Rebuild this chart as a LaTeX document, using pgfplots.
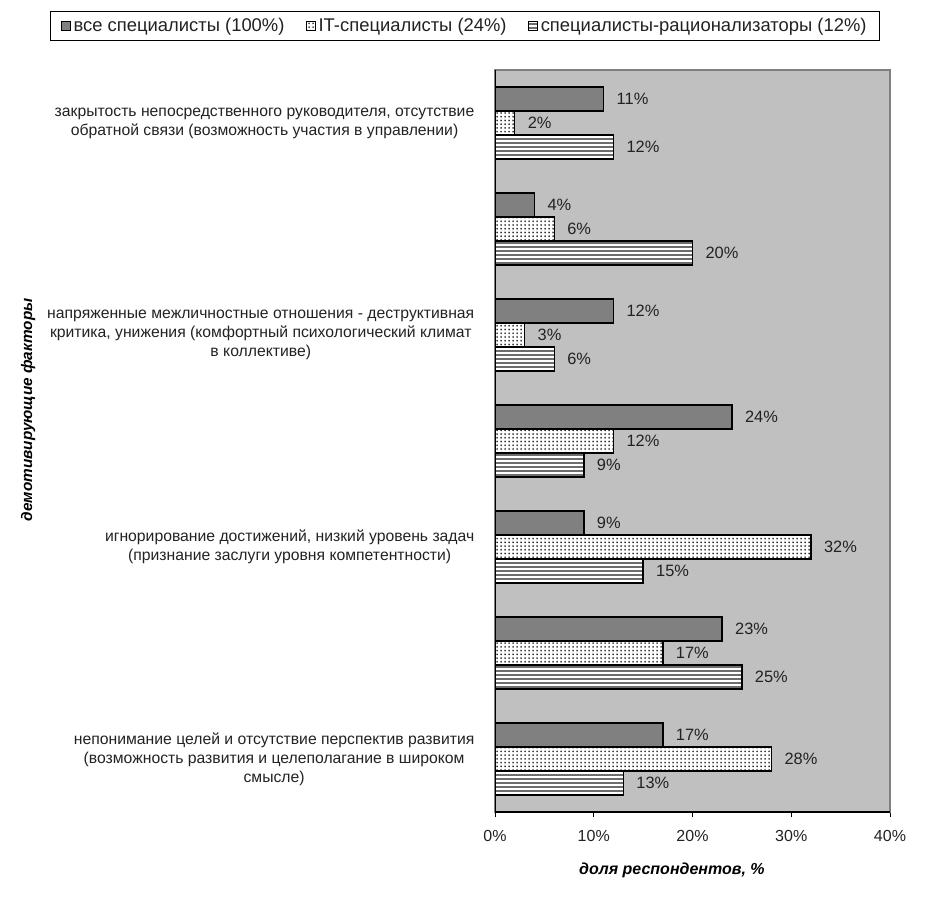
\documentclass[border=0pt]{standalone}
\usepackage{pgfplots}
\pgfplotsset{compat=1.18}
\usepackage{fontspec}
\setmainfont{Liberation Sans}
\usetikzlibrary{patterns}
\definecolor{bggray}{HTML}{C0C0C0}
\definecolor{bargray}{HTML}{808080}
\definecolor{txt}{HTML}{222222}
\pgfdeclarepatternformonly{hstripes}{\pgfpointorigin}{\pgfpoint{4pt}{2.6pt}}{\pgfpoint{4pt}{2.6pt}}{%
  \pgfpathrectangle{\pgfpointorigin}{\pgfpoint{4pt}{1.6pt}}\pgfusepath{fill}}
\pgfdeclarepatternformonly{bigdots}{\pgfpoint{-1pt}{-1pt}}{\pgfpoint{4pt}{4pt}}{\pgfpoint{3pt}{2.8pt}}{%
  \pgfpathellipse{\pgfpoint{0.8pt}{0.8pt}}{\pgfpoint{0.55pt}{0pt}}{\pgfpoint{0pt}{0.8pt}}\pgfusepath{fill}}
\begin{document}
\begin{tikzpicture}
\useasboundingbox (0pt,0pt) rectangle (698.25pt,-684.75pt);
\begin{axis}[
  at={(371.25pt,-52.5pt)}, anchor=north west,
  scale only axis, width=296.25pt, height=556.5pt,
  xbar=0pt, bar width=18pt,
  y dir=reverse,
  xmin=0, xmax=40, ymin=-0.5, ymax=6.5,
  xtick={0,10,20,30,40},
  xticklabels={0\%,10\%,20\%,30\%,40\%},
  ytick={0,1,2,3,4,5,6},
  yticklabels={
    {закрытость непосредственного руководителя, отсутствие\\обратной связи (возможность участия в управлении)},
    {},
    {напряженные межличностные отношения - деструктивная\\критика, унижения (комфортный психологический климат\\в коллективе)},
    {},
    {игнорирование достижений, низкий уровень задач\\(признание заслуги уровня компетентности)},
    {},
    {непонимание целей и отсутствие перспектив развития\\(возможность развития и целеполагание в широком\\смысле)}},
  minor ytick={-0.5,0.5,1.5,2.5,3.5,4.5,5.5,6.5},
  tick pos=left, tick align=outside,
  major tick length=4pt, minor tick length=4pt,
  ytick style={draw=none},
  minor tick style={black, line width=0.6pt},
  xtick style={black, line width=0.6pt},
  yticklabel style={font=\fontsize{11.8}{14.2}\selectfont, align=center, text=txt, xshift=-8pt},
  xticklabel style={font=\fontsize{12}{14}\selectfont, text=txt, yshift=-6pt},
  /pgf/number format/assume math mode=true,
  axis background/.style={fill=bggray},
  axis line style={draw=bargray, line width=1pt},
  xlabel={\textbf{\textit{доля респондентов, \%}}},
  xlabel style={font=\fontsize{12}{14}\selectfont, at={(axis description cs:0.448,-0.078)}, anchor=center},
  ylabel={\textbf{\textit{демотивирующие факторы}}},
  ylabel style={font=\fontsize{11.5}{13}\selectfont, at={(axis description cs:-1.182,0.542)}, anchor=center, rotate=0},
  legend columns=3, reverse legend,
  legend style={at={(axis description cs:-0.076,1.059)}, anchor=center, draw=black, line width=0.8pt,
     font=\fontsize{13.8}{15}\selectfont, text=txt, /tikz/every even column/.append style={column sep=14pt},
     inner xsep=8pt, inner ysep=3pt},
  area legend,
  legend image code/.code={\draw[#1, line width=0.8pt] (0cm,-0.12cm) rectangle (0.24cm,0.12cm);},
  point meta=x,
  nodes near coords={\pgfmathprintnumber{\pgfplotspointmeta}\%},
  nodes near coords style={font=\fontsize{12.3}{14}\selectfont, text=txt, anchor=west, xshift=6pt},
]
\addplot[draw=black, line width=1pt, fill=white, postaction={pattern=hstripes, pattern color=bargray!85!black}] coordinates {(12,0) (20,1) (6,2) (9,3) (15,4) (25,5) (13,6)};
\addlegendentry{специалисты-рационализаторы (12\%)}
\addplot[draw=black, line width=1pt, fill=white, postaction={pattern=bigdots, pattern color=black}] coordinates {(2,0) (6,1) (3,2) (12,3) (32,4) (17,5) (28,6)};
\addlegendentry{IT-специалисты (24\%)}
\addplot[draw=black, line width=1pt, fill=bargray] coordinates {(11,0) (4,1) (12,2) (24,3) (9,4) (23,5) (17,6)};
\addlegendentry{все специалисты (100\%)}
\draw[black, line width=1pt] (axis description cs:0,1) -- (axis description cs:0,0) -- (axis description cs:1,0);
\end{axis}
\end{tikzpicture}
\end{document}
